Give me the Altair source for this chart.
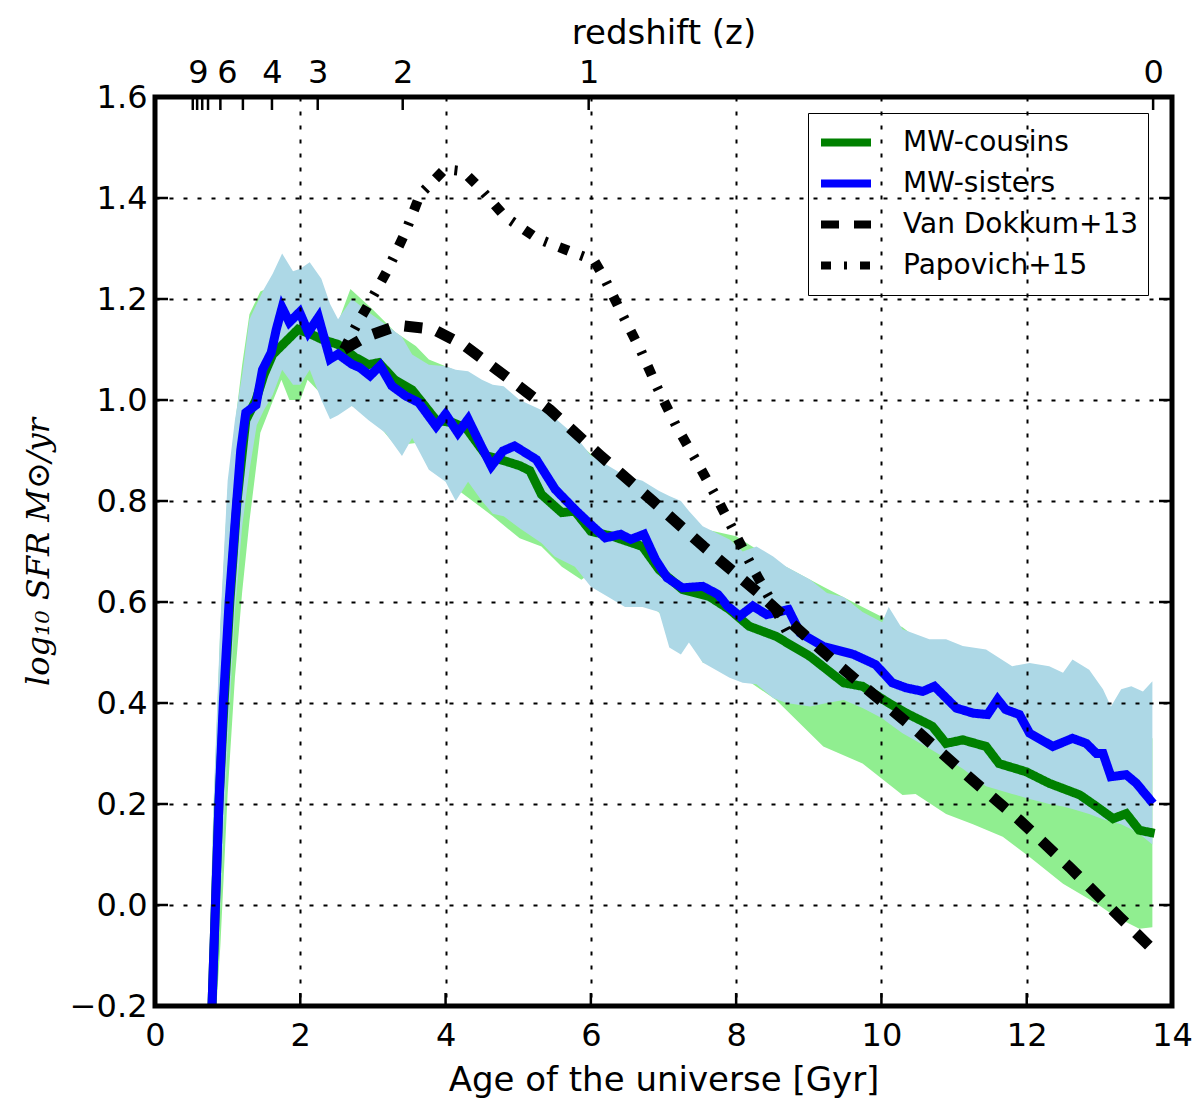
import pandas as pd
import altair as alt

# --- Sternentstehungsgeschichte: MW-cousins / MW-sisters vs. Literatur ---

# Blaue Linie (MW-sisters)
sis_age = [0.77, 0.88, 0.94, 1.02, 1.125, 1.18, 1.25, 1.39, 1.48, 1.60, 1.67, 1.75, 1.85, 1.99,
           2.11, 2.25, 2.41, 2.52, 2.71, 2.82, 2.96, 3.10, 3.26, 3.45, 3.63, 3.87, 4.00, 4.17,
           4.31, 4.49, 4.63, 4.79, 4.95, 5.25, 5.51, 5.78, 5.97, 6.20, 6.41, 6.55, 6.73, 6.89,
           7.05, 7.26, 7.54, 7.75, 7.88, 8.05, 8.23, 8.42, 8.72, 8.88, 9.20, 9.62, 9.92, 10.15,
           10.34, 10.57, 10.73, 11.03, 11.26, 11.46, 11.60, 11.71, 11.90, 12.04, 12.36, 12.63,
           12.82, 12.96, 13.05, 13.16, 13.37, 13.51, 13.74]
sis_val = [-0.26, 0.20, 0.40, 0.60, 0.80, 0.90, 0.975, 0.99, 1.06, 1.094, 1.14, 1.183, 1.154, 1.174,
           1.134, 1.164, 1.081, 1.091, 1.071, 1.064, 1.048, 1.068, 1.028, 1.008, 0.995, 0.948, 0.972, 0.935,
           0.962, 0.909, 0.869, 0.899, 0.909, 0.882, 0.823, 0.783, 0.757, 0.727, 0.734, 0.724, 0.734, 0.684,
           0.648, 0.628, 0.631, 0.615, 0.592, 0.572, 0.592, 0.575, 0.585, 0.539, 0.512, 0.496, 0.476, 0.44,
           0.43, 0.423, 0.433, 0.39, 0.38, 0.377, 0.407, 0.387, 0.377, 0.34, 0.314, 0.33,
           0.32, 0.30, 0.30, 0.254, 0.258, 0.241, 0.201]

# Gruene Linie (MW-cousins)
cou_age = [0.77, 0.88, 0.95, 1.03, 1.13, 1.25, 1.39, 1.50, 1.62, 1.76, 1.97, 2.15, 2.30, 2.52,
           2.75, 2.94, 3.08, 3.30, 3.54, 3.87, 4.10, 4.28, 4.56, 4.80, 5.02, 5.16, 5.32, 5.60,
           5.78, 6.00, 6.30, 6.71, 6.94, 7.26, 7.63, 7.91, 8.18, 8.55, 9.02, 9.48, 9.74, 10.10,
           10.34, 10.70, 10.89, 11.12, 11.44, 11.62, 11.99, 12.31, 12.73, 12.96, 13.19, 13.37,
           13.55, 13.76]
cou_val = [-0.26, 0.20, 0.40, 0.60, 0.80, 0.96, 1.00, 1.05, 1.09, 1.11, 1.14, 1.13, 1.12, 1.11,
           1.085, 1.07, 1.074, 1.04, 1.02, 0.96, 0.955, 0.945, 0.89, 0.88, 0.87, 0.86, 0.813, 0.777,
           0.78, 0.74, 0.73, 0.71, 0.664, 0.625, 0.611, 0.585, 0.552, 0.532, 0.492, 0.44, 0.433, 0.40,
           0.38, 0.354, 0.32, 0.327, 0.314, 0.28, 0.264, 0.241, 0.218, 0.195, 0.171, 0.181,
           0.148, 0.142]

# Streubereich MW-sisters (hellblau)
sis_band_age = [0.72, 0.80, 0.90, 1.00, 1.10, 1.20, 1.30, 1.40, 1.50, 1.62, 1.75, 1.90, 2.00, 2.13,
                2.29, 2.41, 2.52, 2.71, 2.94, 3.17, 3.40, 3.54, 3.77, 4.00, 4.14, 4.31, 4.50, 4.65,
                4.80, 5.02, 5.32, 5.50, 5.78, 6.00, 6.24, 6.47, 6.71, 6.94, 7.08, 7.24, 7.35, 7.54,
                7.91, 8.09, 8.28, 8.51, 8.69, 9.02, 9.25, 9.48, 9.74, 10.01, 10.10, 10.29, 10.66,
                10.89, 11.12, 11.44, 11.80, 12.04, 12.31, 12.50, 12.63, 12.86, 13.05, 13.16, 13.30,
                13.44, 13.60, 13.73]
sis_band_lo = [-0.32, -0.30, 0.00, 0.32, 0.58, 0.75, 0.86, 0.95, 0.98, 1.01, 1.06, 1.03, 1.03, 1.06,
               1.00, 0.962, 0.97, 0.988, 0.96, 0.935, 0.889, 0.925, 0.862, 0.838, 0.80, 0.838, 0.80, 0.775,
               0.77, 0.746, 0.717, 0.69, 0.67, 0.63, 0.61, 0.59, 0.59, 0.58, 0.51, 0.496, 0.52, 0.48,
               0.45, 0.44, 0.437, 0.41, 0.40, 0.393, 0.40, 0.406, 0.39, 0.37, 0.36, 0.34, 0.31,
               0.29, 0.27, 0.235, 0.22, 0.21, 0.20, 0.195, 0.19, 0.18, 0.17, 0.165, 0.16,
               0.15, 0.135, 0.12]
sis_band_hi = [-0.28, 0.18, 0.56, 0.84, 0.96, 1.05, 1.16, 1.19, 1.22, 1.25, 1.29, 1.255, 1.26, 1.273,
               1.24, 1.19, 1.16, 1.20, 1.174, 1.15, 1.125, 1.09, 1.07, 1.067, 1.06, 1.057, 1.04, 1.03,
               1.027, 1.00, 0.98, 0.965, 0.93, 0.89, 0.87, 0.85, 0.84, 0.82, 0.81, 0.80, 0.78, 0.75,
               0.724, 0.70, 0.71, 0.69, 0.67, 0.644, 0.618, 0.61, 0.58, 0.56, 0.59, 0.546, 0.526,
               0.526, 0.513, 0.506, 0.473, 0.479, 0.473, 0.46, 0.486, 0.466, 0.427, 0.393, 0.427,
               0.433, 0.423, 0.443]

# Streubereich MW-cousins (hellgruen)
cou_band_age = [0.72, 0.80, 0.90, 1.00, 1.10, 1.20, 1.30, 1.45, 1.60, 1.74, 1.85, 2.00, 2.10, 2.30,
                2.52, 2.69, 2.99, 3.31, 3.59, 3.77, 4.00, 4.28, 4.65, 5.02, 5.32, 5.60, 5.87, 6.06,
                6.47, 6.89, 7.40, 7.54, 8.00, 8.55, 9.20, 9.74, 10.29, 10.47, 10.89, 11.26, 11.67,
                12.04, 12.50, 12.96, 13.23, 13.55, 13.73]
cou_band_lo = [-0.32, -0.30, -0.08, 0.22, 0.45, 0.62, 0.76, 0.935, 0.99, 1.04, 1.00, 1.00, 1.04, 1.01,
               0.975, 0.99, 0.965, 0.91, 0.915, 0.865, 0.84, 0.81, 0.77, 0.726, 0.71, 0.67, 0.644, 0.664,
               0.61, 0.585, 0.52, 0.48, 0.46, 0.406, 0.314, 0.28, 0.218, 0.22, 0.18, 0.16, 0.135,
               0.095, 0.042, 0.003, -0.024, -0.047, -0.044]
cou_band_hi = [-0.28, 0.16, 0.55, 0.82, 0.95, 1.07, 1.17, 1.215, 1.225, 1.22, 1.20, 1.20, 1.19, 1.17,
               1.154, 1.22, 1.18, 1.134, 1.107, 1.08, 1.067, 1.05, 1.02, 0.99, 0.97, 0.94, 0.91, 0.885,
               0.84, 0.80, 0.77, 0.745, 0.73, 0.68, 0.63, 0.59, 0.55, 0.53, 0.50, 0.48, 0.45,
               0.43, 0.41, 0.38, 0.36, 0.34, 0.33]

# Literatur
vd_age = [2.60, 2.90, 3.35, 3.83, 4.27, 4.64, 5.03, 5.44, 6.13, 6.85, 7.55, 8.29, 8.64, 9.00,
          9.37, 9.74, 10.47, 11.20, 11.90, 12.59, 13.28, 13.75]
vd_val = [1.10, 1.125, 1.148, 1.14, 1.107, 1.067, 1.025, 0.98, 0.89, 0.80, 0.71, 0.62, 0.574, 0.527,
          0.48, 0.435, 0.347, 0.254, 0.168, 0.075, -0.024, -0.09]
pap_age = [2.60, 2.78, 2.93, 3.20, 3.44, 3.65, 3.99, 4.24, 4.45, 4.82, 5.26, 5.79, 6.04, 6.18,
           6.43, 6.69, 6.92, 7.17, 7.45, 7.72, 7.98, 8.23, 8.50, 8.75]
pap_val = [1.10, 1.15, 1.187, 1.257, 1.33, 1.407, 1.457, 1.453, 1.423, 1.363, 1.32, 1.29, 1.277, 1.243,
           1.17, 1.097, 1.023, 0.95, 0.88, 0.81, 0.737, 0.667, 0.597, 0.527]

# Achsen
x_ticks = [0, 2, 4, 6, 8, 10, 12, 14]
y_ticks = [-0.2, 0.0, 0.2, 0.4, 0.6, 0.8, 1.0, 1.2, 1.4, 1.6]
# Rotverschiebung z = 10 ... 0 als Alter [Gyr]
z_tick_age = [0.52, 0.58, 0.65, 0.73, 0.90, 1.21, 1.61, 2.24, 3.41, 5.97, 13.74]
z_label_age = [0.59, 0.99, 1.61, 2.24, 3.41, 5.97, 13.74]
z_labels = ['9', '6', '4', '3', '2', '1', '0']

series = ['MW-cousins', 'MW-sisters', 'Van Dokkum+13', 'Papovich+15']
colors = ['green', 'blue', 'black', 'black']
dashes = [[1, 0], [1, 0], [18, 15], [10, 13, 3, 13]]

W, H = 1017, 909

xs = alt.Scale(domain=[0, 14], nice=False, zero=False)
ys = alt.Scale(domain=[-0.2, 1.6], nice=False, zero=False)

grid_style = dict(grid=True, gridColor='black', gridDash=[4, 10], gridWidth=2, gridOpacity=1,
                  ticks=False, domain=False, labelColor='black', titleColor='black',
                  titleFontWeight='normal', zindex=1)
x_axis = alt.Axis(values=x_ticks, format='d', labelFontSize=32, labelPadding=14, labelFlush=False,
                  title='Age of the universe [Gyr]', titleFontSize=34, titlePadding=12, **grid_style)
y_axis = alt.Axis(values=y_ticks, format='.1f', labelFontSize=32, labelPadding=8,
                  title='log₁₀ SFR M⊙/yr', titleFont='DejaVu Serif', titleFontStyle='italic',
                  titleFontSize=32, titlePadding=14, **grid_style)
z_expr = "%s[indexof(%s, datum.value)]" % (z_labels, z_label_age)
top_axis = alt.Axis(orient='top', values=z_label_age, labelExpr=z_expr, labelFontSize=32,
                    labelPadding=8, labelFlush=False, labelOverlap=False, ticks=False, domain=False,
                    grid=False, labelColor='black', title='redshift (z)', titleFontSize=34,
                    titlePadding=6, titleFontWeight='normal', titleColor='black')

legend = alt.Legend(title=None, orient='none', legendX=653, legendY=16, symbolType='stroke',
                    symbolSize=2500, symbolStrokeWidth=8, labelFontSize=28, labelOffset=28,
                    labelLimit=0, labelColor='black', clipHeight=41, rowPadding=0, padding=9,
                    strokeColor='black', fillColor='white')
color_enc = alt.Color('series:N', scale=alt.Scale(domain=series, range=colors), legend=legend)
dash_enc = alt.StrokeDash('series:N', scale=alt.Scale(domain=series, range=dashes), legend=legend)


def band(age, lo, hi, fill, axis):
    df = pd.DataFrame({'age': age, 'lo': lo, 'hi': hi})
    xa = alt.X('age:Q', scale=xs, axis=x_axis) if axis else alt.X('age:Q', scale=xs, axis=None)
    return alt.Chart(df).mark_area(color=fill, opacity=1, clip=True).encode(
        x=xa, y=alt.Y('lo:Q', scale=ys, axis=y_axis), y2='hi:Q')


def curve(age, val, name, width):
    df = pd.DataFrame({'age': age, 'val': val, 'series': name})
    return alt.Chart(df).mark_line(strokeWidth=width, clip=True, strokeCap='butt').encode(
        x=alt.X('age:Q', scale=xs, axis=None),
        y=alt.Y('val:Q', scale=ys, axis=y_axis),
        color=color_enc, strokeDash=dash_enc)


green_band = band(cou_band_age, cou_band_lo, cou_band_hi, '#90ee90', True)
blue_band = band(sis_band_age, sis_band_lo, sis_band_hi, '#add8e6', False)
green_line = curve(cou_age, cou_val, 'MW-cousins', 9)
blue_line = curve(sis_age, sis_val, 'MW-sisters', 9)
vd_line = curve(vd_age, vd_val, 'Van Dokkum+13', 11)
pap_line = curve(pap_age, pap_val, 'Papovich+15', 10)

# Tickstriche nach innen (wie matplotlib)
tick_x = pd.DataFrame({'age': x_ticks[1:-1]})
tick_y = pd.DataFrame({'val': y_ticks[1:-1]})
tick_z = pd.DataFrame({'age': z_tick_age})
bottom_ticks = alt.Chart(tick_x).mark_rule(color='black', strokeWidth=2.5).encode(
    x=alt.X('age:Q', scale=xs, axis=None), y=alt.value(H), y2=alt.value(H - 13))
top_ticks = alt.Chart(tick_z).mark_rule(color='black', strokeWidth=2.5).encode(
    x=alt.X('age:Q', scale=xs, axis=top_axis), y=alt.value(0), y2=alt.value(13))
left_ticks = alt.Chart(tick_y).mark_rule(color='black', strokeWidth=2.5).encode(
    y=alt.Y('val:Q', scale=ys, axis=y_axis), x=alt.value(0), x2=alt.value(13))
right_ticks = alt.Chart(tick_y).mark_rule(color='black', strokeWidth=2.5).encode(
    y=alt.Y('val:Q', scale=ys, axis=y_axis), x=alt.value(W), x2=alt.value(W - 13))

# Rahmen um die Zeichenflaeche
frame = alt.Chart(pd.DataFrame({'k': [0]})).mark_rect(
    filled=False, stroke='black', strokeWidth=5
).encode(x=alt.value(0), x2=alt.value(W), y=alt.value(0), y2=alt.value(H))

chart = alt.layer(
    green_band, blue_band, green_line, blue_line, vd_line, pap_line,
    bottom_ticks, top_ticks, left_ticks, right_ticks, frame
).resolve_axis(x='independent').properties(
    width=W, height=H,
    autosize=alt.AutoSizeParams(type='none'),
    padding={'left': 147, 'top': 89, 'right': 20, 'bottom': 95}
).configure_legend(
    strokeWidth=3
).configure(
    font='DejaVu Sans'
)

chart.save('out.html', embed_options={'renderer': 'svg', 'actions': False})
